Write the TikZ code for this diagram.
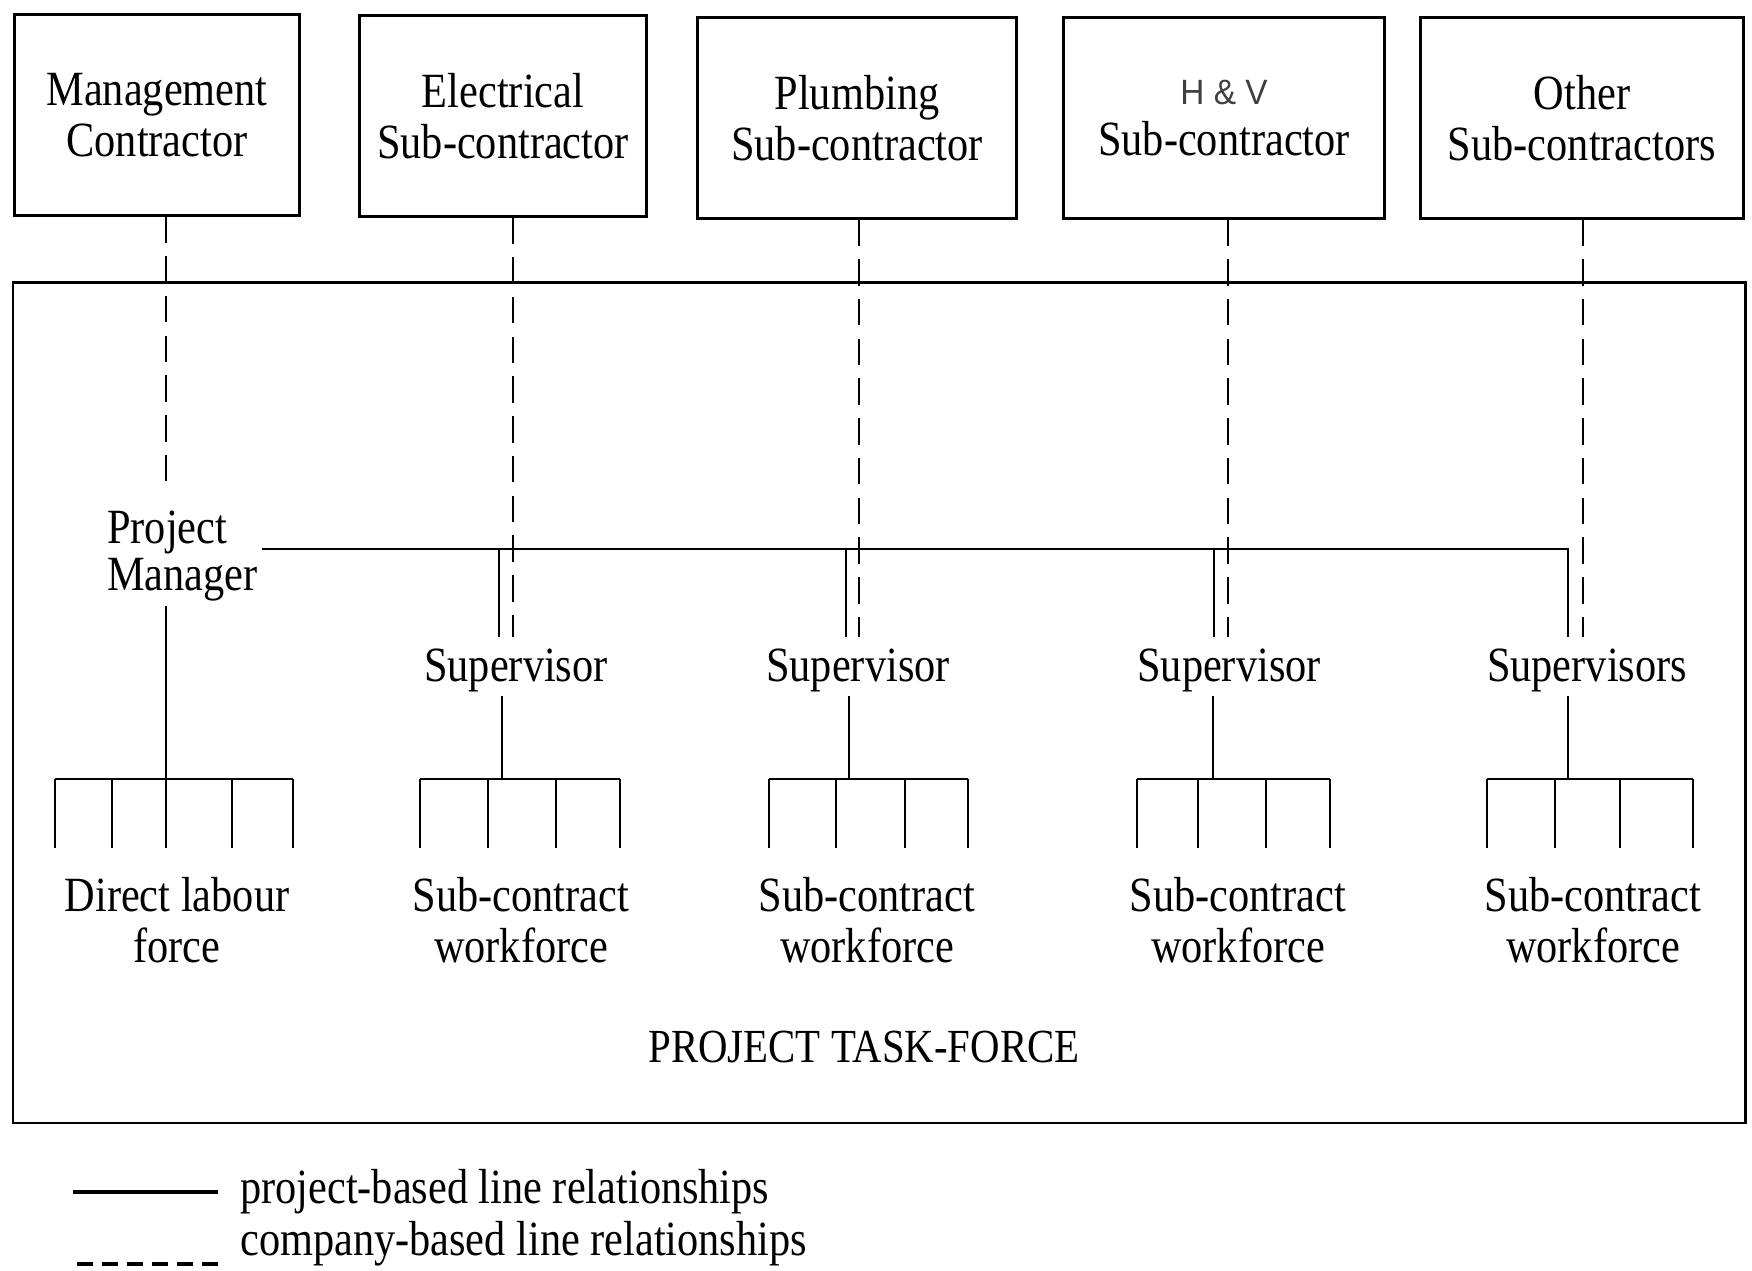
\documentclass[tikz,border=0pt]{standalone}
\usepackage{fontspec}
\setmainfont{Liberation Serif}[FakeStretch=0.86]
\newfontfamily\hvfont{Liberation Sans}[FakeStretch=0.95]

\begin{document}
\begin{tikzpicture}[x=0.01cm,y=-0.01cm]
	\tikzset{firm/.style = {shape=rectangle,draw,line width=0.85pt,minimum height=2cm,
			align=center,font=\fontsize{14}{14.6}\selectfont}}
	\tikzset{lbl/.style = {align=center,inner sep=1pt,font=\fontsize{14}{14.6}\selectfont}}
	\tikzset{proj/.style = {-,line width=0.65pt}}
	\tikzset{comp/.style = {-,line width=0.7pt,dash pattern=on 7.5pt off 3.8pt}}
	\tikzset{legdash/.style = {-,line width=1.1pt,dash pattern=on 4.5pt off 2.6pt}}
	\useasboundingbox (0,0) rectangle (1752,1271);
    % companies
    \node[firm,minimum width=2.84cm] (mc) at (157,115) {Management\\Contractor};
    \node[firm,minimum width=2.86cm] (ec) at (503,116) {Electrical\\Sub-contractor};
    \node[firm,minimum width=3.19cm] (pc) at (857,118) {Plumbing\\Sub-contractor};
    \node[firm,minimum width=3.21cm] (hc) at (1224,118) {{\hvfont\color{black!75}\fontsize{10}{14.6}\selectfont H \& V}\\Sub-contractor};
    \node[firm,minimum width=3.22cm] (oc) at (1582,118) {Other\\Sub-contractors};
    % task-force frame
    \draw[line width=0.85pt] (13,283) rectangle (1745,1123);
    \node[lbl,font=\fontsize{13.5}{14}\selectfont] (ptf) at (864,1047) {PROJECT TASK-FORCE};
    % people
    \node[lbl,align=left,anchor=west,font=\fontsize{14}{13.5}\selectfont] (pm) at (103,556) {Project\\Manager};
    \node[lbl] (s1) at (516,670) {Supervisor};
    \node[lbl] (s2) at (858,670) {Supervisor};
    \node[lbl] (s3) at (1229,670) {Supervisor};
    \node[lbl] (s4) at (1587,670) {Supervisors};
    \node[lbl] (w0) at (177,920) {Direct labour\\force};
    \node[lbl] (w1) at (521,920) {Sub-contract\\workforce};
    \node[lbl] (w2) at (867,920) {Sub-contract\\workforce};
    \node[lbl] (w3) at (1238,920) {Sub-contract\\workforce};
    \node[lbl] (w4) at (1593,920) {Sub-contract\\workforce};
    % company-based lines
    \coordinate (d0) at (166,494);
    \coordinate (d1) at (513,637);
    \coordinate (d2) at (859,637);
    \coordinate (d3) at (1228,637);
    \coordinate (d4) at (1583,637);
    \draw[comp] (mc.south -| d0) -- (d0);
    \draw[comp] (ec.south -| d1) -- (d1);
    \draw[comp] (pc.south -| d2) -- (d2);
    \draw[comp] (hc.south -| d3) -- (d3);
    \draw[comp] (oc.south -| d4) -- (d4);
    % project-based lines
    \coordinate (bar) at (0,549);
    \coordinate (j1) at (499,637);
    \coordinate (j2) at (846,637);
    \coordinate (j3) at (1214,637);
    \coordinate (j4) at (1568,637);
    \draw[proj] (pm.east |- bar) -| (j4);
    \foreach \j in {j1,j2,j3}
        \draw[proj] (\j |- bar) -- (\j);
    \coordinate (b0) at (166,779);
    \coordinate (b1) at (502,779);
    \coordinate (b2) at (849,779);
    \coordinate (b3) at (1213,779);
    \coordinate (b4) at (1568,779);
    \draw[proj] (pm.south -| b0) -- (b0);
    \draw[proj] (s1.south -| b1) -- (b1);
    \draw[proj] (s2.south -| b2) -- (b2);
    \draw[proj] (s3.south -| b3) -- (b3);
    \draw[proj] (s4.south -| b4) -- (b4);
    % workforce combs
    \draw[proj] (55,779) -- (293,779);
    \draw[proj] (420,779) -- (620,779);
    \draw[proj] (769,779) -- (968,779);
    \draw[proj] (1137,779) -- (1330,779);
    \draw[proj] (1487,779) -- (1693,779);
    \foreach \x in {55,112,166,232,293,420,488,556,620,769,836,905,968,
                    1137,1198,1266,1330,1487,1555,1620,1693}
        \draw[proj] (\x,779) -- (\x,848);
    % legend
    \node[lbl,anchor=west] (l1) at (236,1192) {project-based line relationships};
    \node[lbl,anchor=west] (l2) at (236,1244) {company-based line relationships};
    \draw[proj,line width=1pt] (l1.west) ++(-18,0) -- ++(-145,0);
    \draw[legdash] (l2.base west) ++(-18,8) -- ++(-145,0);
\end{tikzpicture}
\end{document}
